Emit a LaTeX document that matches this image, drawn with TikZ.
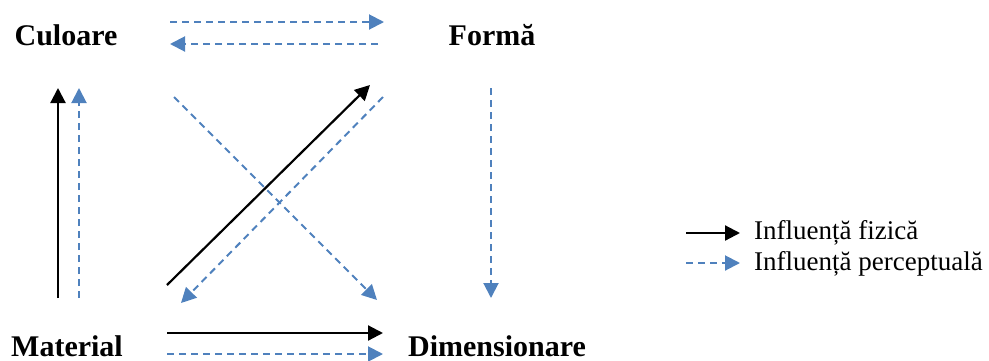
\documentclass[tikz,border=0pt]{standalone}
\usepackage{fontspec}
\setmainfont{Liberation Serif}
\usetikzlibrary{arrows.meta}
\definecolor{pblue}{RGB}{79,129,189}
\begin{document}
\begin{tikzpicture}[x=1pt,y=-1pt,
  lbl/.style={font=\fontsize{30}{36}\selectfont\bfseries, inner sep=0pt, anchor=base},
  leg/.style={font=\fontsize{27}{32}\selectfont, inner sep=0pt, anchor=base west},
  phys/.style={draw=black, line width=2.2pt, -{Triangle[length=15pt,width=15pt]}},
  perc/.style={draw=pblue, line width=2pt, dash pattern=on 7pt off 5pt, -{Triangle[length=15pt,width=15pt]}}
]
\useasboundingbox (0,0) rectangle (989,360);
% labels
\node[lbl] (cul) at (66,45) {Culoare};
\node[lbl] (for) at (492,45) {Formă};
\node[lbl] (mat) at (67,356) {Material};
\node[lbl] (dim) at (497,356) {Dimensionare};
% endpoints
\coordinate (t1a) at (170,22);  \coordinate (t1b) at (384,22);
\coordinate (t2a) at (378,44);  \coordinate (t2b) at (170,44);
\coordinate (l1a) at (58,298);  \coordinate (l1b) at (58,88);
\coordinate (l2a) at (79,298);  \coordinate (l2b) at (79,88);
\coordinate (d1a) at (167,285); \coordinate (d1b) at (370,85);
\coordinate (d2a) at (383,97);  \coordinate (d2b) at (181,303);
\coordinate (d3a) at (174,97);  \coordinate (d3b) at (377,300);
\coordinate (fa) at (491,88);   \coordinate (fb) at (491,298);
\coordinate (b1a) at (167,333); \coordinate (b1b) at (383,333);
\coordinate (b2a) at (167,354); \coordinate (b2b) at (383,354);
% arrows
\draw[perc] (t1a) -- (t1b);
\draw[perc] (t2a) -- (t2b);
\draw[phys] (l1a) -- (l1b);
\draw[perc] (l2a) -- (l2b);
\draw[perc] (d3a) -- (d3b);
\draw[phys] (d1a) -- (d1b);
\draw[perc] (d2a) -- (d2b);
\draw[perc] (fa) -- (fb);
\draw[phys] (b1a) -- (b1b);
\draw[perc] (b2a) -- (b2b);
% legend
\coordinate (g1a) at (686,233); \coordinate (g1b) at (740,233);
\coordinate (g2a) at (686,263); \coordinate (g2b) at (740,263);
\draw[phys] (g1a) -- (g1b);
\draw[perc] (g2a) -- (g2b);
\node[leg] (lg1) at (754,239) {Influență fizică};
\node[leg] (lg2) at (754,270) {Influență perceptuală};
\end{tikzpicture}
\end{document}
